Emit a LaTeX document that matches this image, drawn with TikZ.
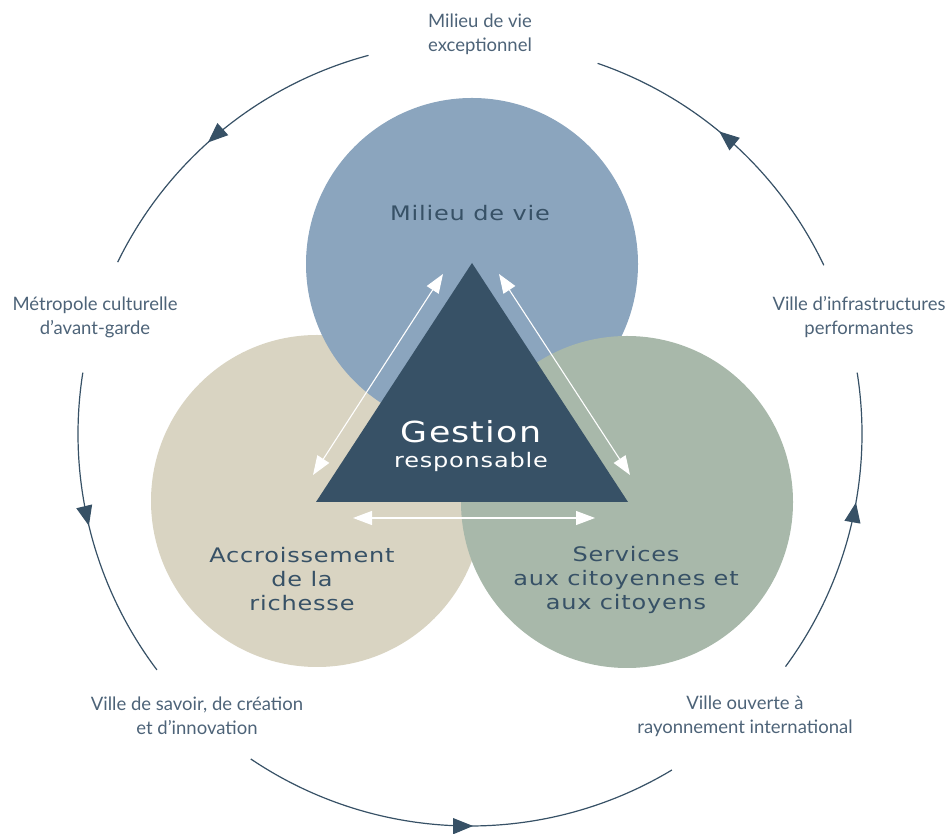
\documentclass[tikz,border=0pt]{standalone}
\usepackage{fontspec}
\setmainfont{Lato}
\newfontfamily\techfont[FakeStretch=1.2,LetterSpace=4]{DejaVu Sans}
\usetikzlibrary{arrows.meta,decorations.markings}
\definecolor{slate}{HTML}{375166}
\definecolor{labelgray}{HTML}{4D6378}
\definecolor{vieblue}{HTML}{8BA5BE}
\definecolor{richbeige}{HTML}{D9D4C2}
\definecolor{servgreen}{HTML}{A8B8AA}
\begin{document}
\begin{tikzpicture}[x=1pt,y=1pt,
	ring/.style={draw=slate, line width=1.2pt,
		postaction={decorate},
		decoration={markings, mark=at position #1 with {\arrow{Triangle[length=20pt,width=16pt]}}}},
	ring/.default=0.5,
	duo/.style={draw=white, line width=1.1pt, {Triangle[length=19pt,width=14pt,fill=white]}-{Triangle[length=19pt,width=14pt,fill=white]}},
	outer/.style={text=labelgray, align=center, font=\fontsize{18.5}{24}\selectfont},
	inner/.style={text=slate, align=center, font=\techfont\fontsize{20}{24}\selectfont}]
	\useasboundingbox (0,0) rectangle (949,834);

	% the three circles
	\fill[richbeige] (317,333) circle (166);
	\fill[vieblue] (472,570) circle (166);
	\fill[servgreen] (627,332) circle (166);

	% triangle in the middle
	\coordinate (apex) at (472,571);
	\coordinate (baseL) at (316,332);
	\coordinate (baseR) at (628,332);
	\fill[slate] (apex) -- (baseL) -- (baseR) -- cycle;

	% white double arrows
	\coordinate (aL1) at (313,359);
	\coordinate (aL2) at (443,560);
	\coordinate (aR1) at (499,560);
	\coordinate (aR2) at (630,359);
	\coordinate (aB1) at (353,316);
	\coordinate (aB2) at (595,316);
	\draw[duo] (aL1) -- (aL2);
	\draw[duo] (aR1) -- (aR2);
	\draw[duo] (aB1) -- (aB2);

	% labels inside
	\node[inner] (vie) at (470,621) {Milieu de vie};
	\node[text=white, font=\techfont\fontsize{29}{30}\selectfont] (gestion) at (471,402) {Gestion};
	\node[text=white, font=\techfont\fontsize{20}{22}\selectfont] (resp) at (471,372) {responsable};
	\node[inner] (richesse) at (302,255) {Accroissement\\de la\\richesse};
	\node[inner] (services) at (626,254) {Services\\aux citoyennes et\\aux citoyens};

	% outer ring
	\coordinate (O) at (470,400);
	\draw[ring=0.55] (O) ++(105:392) arc[start angle=105, end angle=154, radius=392];
	\draw[ring=0.49] (O) ++(171:392) arc[start angle=171, end angle=217, radius=392];
	\draw[ring=0.53] (O) ++(236:392) arc[start angle=236, end angle=301, radius=392];
	\draw[ring=0.58] (O) ++(-36.4:392) arc[start angle=-36.4, end angle=9, radius=392];
	\draw[ring=0.55] (O) ++(25.5:392) arc[start angle=25.5, end angle=71, radius=392];

	\node[outer] (exc) at (480,800) {Milieu de vie\\exceptionnel};
	\node[outer] (metro) at (95,517) {Métropole culturelle\\d’avant-garde};
	\node[outer] (infra) at (859,517) {Ville d’infrastructures\\performantes};
	\node[outer] (savoir) at (197,118) {Ville de savoir, de création\\et d’innovation};
	\node[outer] (ouverte) at (745,118) {Ville ouverte à\\rayonnement international};
\end{tikzpicture}
\end{document}
